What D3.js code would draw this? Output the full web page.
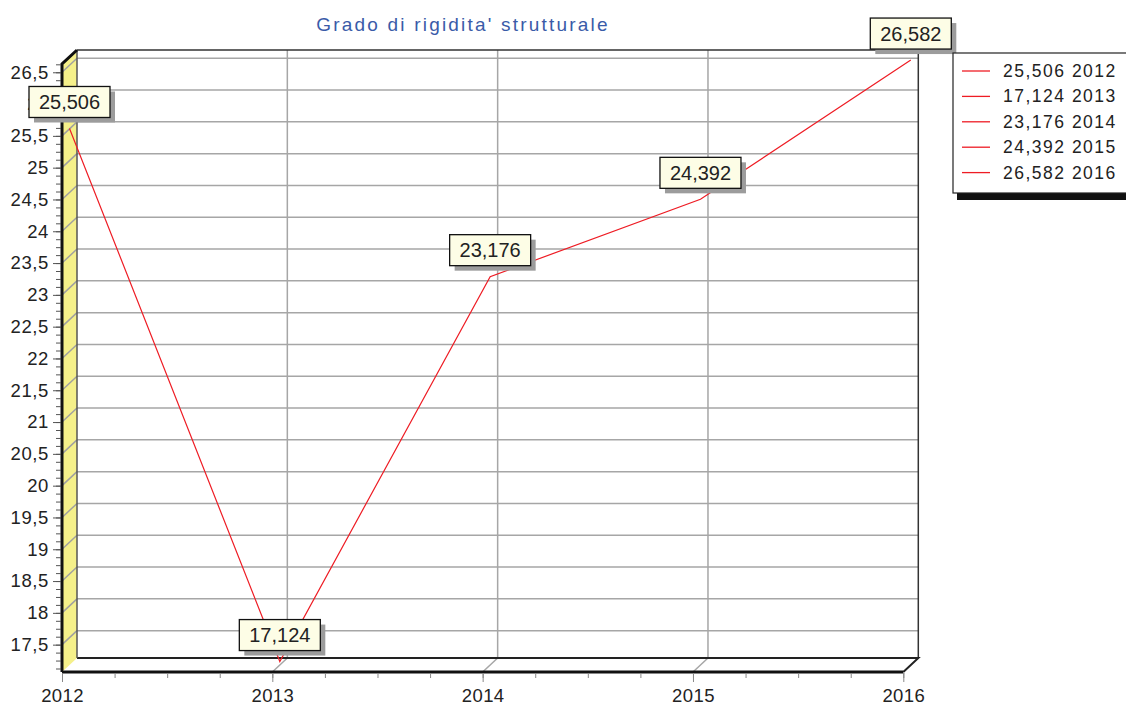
<!DOCTYPE html>
<html>
<head>
<meta charset="utf-8">
<script src="https://cdn.jsdelivr.net/npm/d3@7"></script>
<style>
  body { margin: 0; background: #fff; }
  text { font-family: "Liberation Sans", Arial, sans-serif; fill: #222; }
</style>
</head>
<body>
<div id="plot"></div>
<script>
// Data
const years = [2012, 2013, 2014, 2015, 2016];
const values = [25.506, 17.124, 23.176, 24.392, 26.582];
const chartTitle = "Grado di rigidita' strutturale";

// Setup
const width = 1126;
const height = 707;
const depthX = 15, depthY = -14;   // 3D wall offset
const it = d3.formatLocale({ decimal: ",", thousands: ".", grouping: [3], currency: ["", "€"] });
const fmtAxis = it.format("~f");
const fmtVal = it.format(".3f");

const svg = d3.select("#plot")
  .append("svg")
  .attr("width", width)
  .attr("height", height);

const x = d3.scaleLinear().domain([2012, 2016]).range([62, 903.3]);
const y = d3.scaleLinear().domain([17.07, 26.63]).range([672, 64]);

const yMajor = d3.range(17.5, 26.51, 0.5);
const yMinor = d3.range(17.125, 26.63, 0.125);
const xMinor = d3.range(2012, 2016.01, 0.25);

const x0 = x.range()[0], x1 = x.range()[1];
const yb = y.range()[0], yt = y.range()[1];

// Back wall
svg.append("rect")
  .attr("x", x0 + depthX).attr("y", yt + depthY)
  .attr("width", x1 - x0).attr("height", yb - yt)
  .attr("fill", "#fff");

// Horizontal grid (back)
svg.append("g").selectAll("line")
  .data(yMajor)
  .enter().append("line")
  .attr("x1", x0 + depthX).attr("x2", x1 + depthX)
  .attr("y1", d => y(d) + depthY).attr("y2", d => y(d) + depthY)
  .attr("stroke", "#a6a6a6").attr("stroke-width", 1.5);

// Vertical grid (back)
svg.append("g").selectAll("line")
  .data(years.slice(1, -1))
  .enter().append("line")
  .attr("x1", d => x(d) + depthX).attr("x2", d => x(d) + depthX)
  .attr("y1", yt + depthY).attr("y2", yb + depthY)
  .attr("stroke", "#a6a6a6").attr("stroke-width", 1.5);

// Back wall border: top and right
svg.append("path")
  .attr("d", `M${x0 + depthX},${yt + depthY}H${x1 + depthX}V${yb + depthY}`)
  .attr("fill", "none").attr("stroke", "#333").attr("stroke-width", 1.5);

// Floor
svg.append("path")
  .attr("d", `M${x0},${yb}L${x0 + depthX},${yb + depthY}H${x1 + depthX}L${x1},${yb}Z`)
  .attr("fill", "#fff");
svg.append("g").selectAll("line")
  .data(years.slice(1, -1))
  .enter().append("line")
  .attr("x1", d => x(d)).attr("y1", yb)
  .attr("x2", d => x(d) + depthX).attr("y2", yb + depthY)
  .attr("stroke", "#a6a6a6").attr("stroke-width", 1.5);
svg.append("path")
  .attr("d", `M${x0 + depthX},${yb + depthY}H${x1 + depthX}L${x1},${yb}`)
  .attr("fill", "none").attr("stroke", "#222").attr("stroke-width", 2);
svg.append("line")
  .attr("x1", x0).attr("x2", x1).attr("y1", yb).attr("y2", yb)
  .attr("stroke", "#111").attr("stroke-width", 3);

// Left wall (yellow)
svg.append("path")
  .attr("d", `M${x0},${yt}L${x0 + depthX},${yt + depthY}V${yb + depthY}L${x0},${yb}Z`)
  .attr("fill", "#f5f08a");
svg.append("g").selectAll("line")
  .data(yMajor)
  .enter().append("line")
  .attr("x1", x0).attr("y1", d => y(d))
  .attr("x2", x0 + depthX).attr("y2", d => y(d) + depthY)
  .attr("stroke", "#a0a0a0").attr("stroke-width", 1.5);
svg.append("line")
  .attr("x1", x0 + depthX).attr("x2", x0 + depthX)
  .attr("y1", yt + depthY).attr("y2", yb + depthY)
  .attr("stroke", "#555").attr("stroke-width", 1.5);
svg.append("path")
  .attr("d", `M${x0},${yb}V${yt}L${x0 + depthX},${yt + depthY}`)
  .attr("fill", "none").attr("stroke", "#111").attr("stroke-width", 3);

// Y axis
const yAxisMinor = svg.append("g")
  .attr("transform", `translate(${x0 - 1},0)`)
  .call(d3.axisLeft(y).tickValues(yMinor).tickSize(5).tickFormat(""));
const yAxis = svg.append("g")
  .attr("transform", `translate(${x0 - 1},0)`)
  .call(d3.axisLeft(y).tickValues(yMajor).tickSize(8).tickPadding(4).tickFormat(fmtAxis));
[yAxis, yAxisMinor].forEach(g => {
  g.select(".domain").remove();
  g.selectAll("line").attr("stroke", "#555");
});
yAxis.selectAll("text")
  .style("font-size", "18.5px")
  .style("letter-spacing", "0.6px")
  .style("font-family", "'Liberation Sans', Arial, sans-serif")
  .attr("fill", "#222");

// X axis
const xAxisMinor = svg.append("g")
  .attr("transform", `translate(0,${yb + 1})`)
  .call(d3.axisBottom(x).tickValues(xMinor).tickSize(5).tickFormat(""));
const xAxis = svg.append("g")
  .attr("transform", `translate(0,${yb + 1})`)
  .call(d3.axisBottom(x).tickValues(years).tickSize(9).tickPadding(7).tickFormat(d3.format("d")));
[xAxis, xAxisMinor].forEach(g => {
  g.select(".domain").remove();
  g.selectAll("line").attr("stroke", "#888");
});
xAxis.selectAll("text")
  .style("font-size", "18.5px")
  .style("letter-spacing", "0.4px")
  .style("font-family", "'Liberation Sans', Arial, sans-serif")
  .attr("fill", "#222");

// Line series (drawn at mid depth)
const px = d => x(d) + depthX / 2;
const py = v => y(v) + depthY / 2;
const points = years.map((yr, i) => ({ year: yr, value: values[i] }));

svg.append("path")
  .datum(points)
  .attr("fill", "none")
  .attr("stroke", "#ee1c24")
  .attr("stroke-width", 1.2)
  .attr("d", d3.line().x(d => px(d.year)).y(d => py(d.value)));

// Value labels
const labels = svg.append("g").selectAll("g")
  .data(points)
  .enter().append("g")
  .attr("transform", d => `translate(${px(d.year)},${py(d.value) - 11})`);
labels.append("rect")
  .attr("x", -40.5 + 5).attr("y", -31 + 5)
  .attr("width", 81).attr("height", 31)
  .attr("fill", "#9c9c9c");
labels.append("rect")
  .attr("x", -40.5).attr("y", -31)
  .attr("width", 81).attr("height", 31)
  .attr("fill", "#fdfde6")
  .attr("stroke", "#111").attr("stroke-width", 1.3);
labels.append("text")
  .attr("x", 0).attr("y", -8.5)
  .attr("text-anchor", "middle")
  .style("font-size", "20px")
  .text(d => fmtVal(d.value));

// Title
svg.append("text")
  .attr("x", 463).attr("y", 30.5)
  .attr("text-anchor", "middle")
  .style("font-size", "19px")
  .style("letter-spacing", "2.2px")
  .style("fill", "#3a5ba8")
  .text(chartTitle);

// Legend
const legend = svg.append("g").attr("transform", "translate(953,53)");
legend.append("rect")
  .attr("x", 4).attr("y", 140)
  .attr("width", 200).attr("height", 7)
  .attr("fill", "#111");
legend.append("rect")
  .attr("x", 0).attr("y", 0)
  .attr("width", 200).attr("height", 140)
  .attr("fill", "#fff")
  .attr("stroke", "#222").attr("stroke-width", 1.2);
const rows = legend.selectAll("g.row")
  .data(points)
  .enter().append("g")
  .attr("class", "row")
  .attr("transform", (d, i) => `translate(0,${18 + i * 25.4})`);
rows.append("line")
  .attr("x1", 9).attr("x2", 37)
  .attr("stroke", "#ee1c24").attr("stroke-width", 1.3);
rows.append("text")
  .attr("x", 50).attr("y", 6)
  .style("font-size", "17.5px")
  .style("letter-spacing", "1.5px")
  .text(d => `${fmtVal(d.value)} ${d.year}`);
</script>
</body>
</html>
